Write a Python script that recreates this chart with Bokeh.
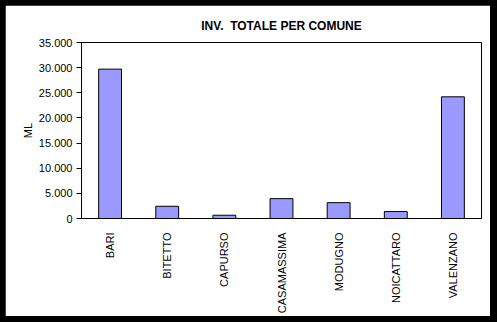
from bokeh.plotting import figure
from bokeh.models import FixedTicker, Range1d
from bokeh.layouts import column
from bokeh.embed import file_html
from bokeh.resources import INLINE

comuni = ["BARI", "BITETTO", "CAPURSO", "CASAMASSIMA", "MODUGNO", "NOICATTARO", "VALENZANO"]
valori = [29700, 2430, 650, 3950, 3150, 1380, 24200]
y_ticks = [0, 5000, 10000, 15000, 20000, 25000, 30000, 35000]
y_tick_labels = ["0", "5.000", "10.000", "15.000", "20.000", "25.000", "30.000", "35.000"]
titolo = "INV.\u00a0 TOTALE PER COMUNE"

FONT = "Liberation Sans"

p = figure(x_range=comuni, width=485, height=311, output_backend="svg",
           toolbar_location=None, title=titolo,
           min_border_left=76, min_border_right=9, min_border_top=37, min_border_bottom=97)
p.y_range = Range1d(0, 35000)

p.vbar(x=comuni, top=valori, width=0.4, fill_color="#9999FF", line_color="black", line_width=1)

p.title.align = "center"
p.title.vertical_align = "top"
p.title.text_font = FONT
p.title.text_font_size = "12px"
p.title.text_font_style = "bold"
p.title.text_color = "black"
p.title.standoff = 16

p.background_fill_color = "white"
p.border_fill_color = "white"
p.outline_line_color = "black"
p.outline_line_width = 1
p.outline_line_alpha = 1
p.grid.visible = False

ya = p.yaxis[0]
ya.ticker = FixedTicker(ticks=y_ticks)
ya.major_label_overrides = {t: l for t, l in zip(y_ticks, y_tick_labels)}
ya.minor_tick_line_color = None
ya.major_tick_in = 0
ya.major_tick_out = 5
ya.major_tick_line_color = "black"
ya.axis_line_color = "black"
ya.major_label_text_font = FONT
ya.major_label_text_font_size = "11px"
ya.major_label_text_color = "black"
ya.major_label_standoff = 4
ya.axis_label = "ML"
ya.axis_label_text_font = FONT
ya.axis_label_text_font_size = "11px"
ya.axis_label_text_font_style = "normal"
ya.axis_label_text_color = "black"
ya.axis_label_standoff = 2

xa = p.xaxis[0]
xa.major_tick_line_color = None
xa.minor_tick_line_color = None
xa.axis_line_color = "black"
xa.major_label_orientation = 1.5707963
xa.major_label_text_font = FONT
xa.major_label_text_font_size = "11px"
xa.major_label_text_color = "black"
xa.major_label_standoff = 8

layout = column(p, styles={"background-color": "black", "padding": "5px 7px 6px 5px"})

open("out.html", "w").write(file_html(layout, INLINE))
